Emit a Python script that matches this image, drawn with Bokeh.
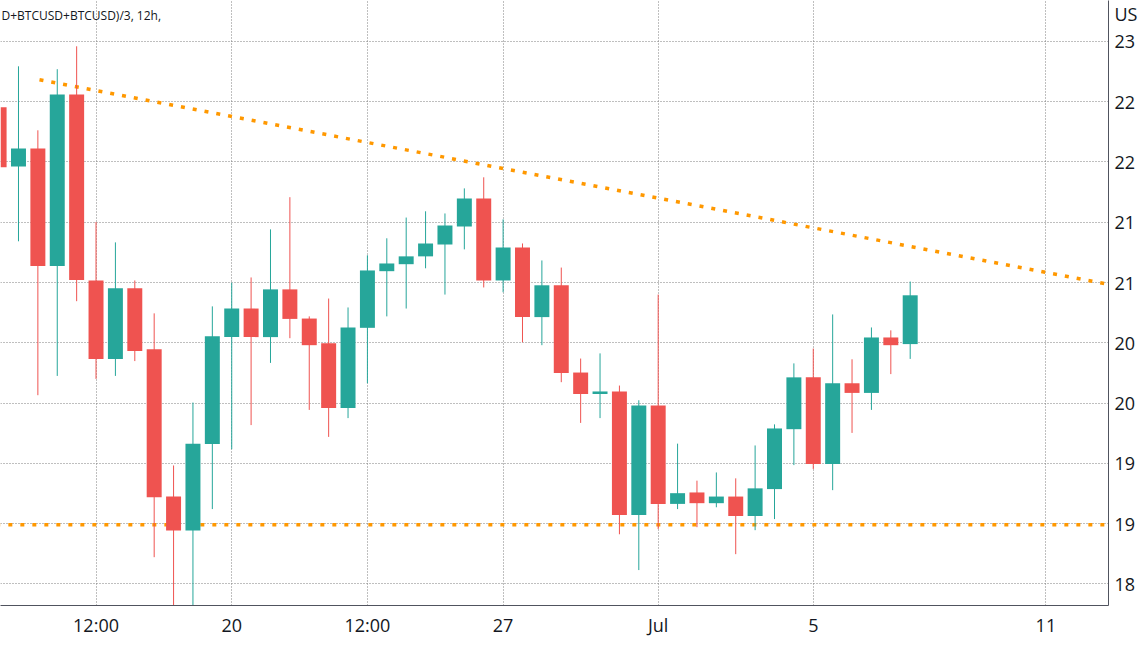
import pandas as pd
from bokeh.plotting import figure
from bokeh.models import ColumnDataSource, Range1d, FixedTicker, Label
from bokeh.embed import file_html
from bokeh.resources import INLINE

# ---------------- data (12h candles) ----------------
TIMES = [
    "2022-06-14 00:00", "2022-06-14 12:00", "2022-06-15 00:00", "2022-06-15 12:00",
    "2022-06-16 00:00", "2022-06-16 12:00", "2022-06-17 00:00", "2022-06-17 12:00",
    "2022-06-18 00:00", "2022-06-18 12:00", "2022-06-19 00:00", "2022-06-19 12:00",
    "2022-06-20 00:00", "2022-06-20 12:00", "2022-06-21 00:00", "2022-06-21 12:00",
    "2022-06-22 00:00", "2022-06-22 12:00", "2022-06-23 00:00", "2022-06-23 12:00",
    "2022-06-24 00:00", "2022-06-24 12:00", "2022-06-25 00:00", "2022-06-25 12:00",
    "2022-06-26 00:00", "2022-06-26 12:00", "2022-06-27 00:00", "2022-06-27 12:00",
    "2022-06-28 00:00", "2022-06-28 12:00", "2022-06-29 00:00", "2022-06-29 12:00",
    "2022-06-30 00:00", "2022-06-30 12:00", "2022-07-01 00:00", "2022-07-01 12:00",
    "2022-07-02 00:00", "2022-07-02 12:00", "2022-07-03 00:00", "2022-07-03 12:00",
    "2022-07-04 00:00", "2022-07-04 12:00", "2022-07-05 00:00", "2022-07-05 12:00",
    "2022-07-06 00:00", "2022-07-06 12:00", "2022-07-07 00:00", "2022-07-07 12:00",
]
OPEN = [22454, 21962, 22113, 21137, 22561, 21017, 20366, 20953,
        20446, 19224, 18942, 19660, 20547, 20784, 20547, 20943,
        20701, 20495, 19958, 20624, 21094, 21152, 21217, 21315,
        21465, 21698, 21017, 21290, 20713, 20977, 20253, 20075,
        20096, 19071, 19980, 19163, 19258, 19169, 19224, 19062,
        19286, 19783, 20213, 19494, 20164, 20084, 20544, 20489]
HIGH = [22650, 22794, 22263, 22770, 22960, 21502, 21333, 21017,
        20744, 19482, 20004, 20802, 20999, 21042, 21441, 21708,
        20719, 20867, 20793, 21226, 21367, 21539, 21591, 21573,
        21781, 21873, 21524, 21324, 21183, 21124, 20369, 20412,
        20145, 20023, 20900, 19663, 19356, 19424, 19375, 19648,
        19823, 20329, 20452, 20735, 20363, 20627, 20603, 21008]
LOW = [21800, 21342, 20065, 20225, 20845, 20200, 20225, 20348,
       18721, 17800, 18100, 19120, 19617, 19817, 20333, 20538,
       19943, 19719, 19875, 20164, 20719, 20784, 21118, 20900,
       21275, 20959, 20919, 20504, 20480, 20173, 19835, 19875,
       18911, 18614, 18954, 19120, 18970, 19135, 18746, 18945,
       19037, 19485, 19452, 19277, 19752, 19943, 20240, 20366]
CLOSE = [21956, 22113, 21137, 22561, 21020, 20366, 20953, 20431,
         19218, 18942, 19663, 20554, 20784, 20547, 20943, 20698,
         20480, 19958, 20627, 21100, 21158, 21217, 21324, 21474,
         21698, 21017, 21290, 20713, 20977, 20250, 20075, 20096,
         19071, 19980, 19163, 19252, 19169, 19224, 19062, 19292,
         19789, 20213, 19494, 20164, 20084, 20544, 20480, 20894]

# drawn lines (anchor points)
TREND_TIMES = ["2022-06-15 01:00", "2022-07-13 00:00"]
TREND_PRICES = [22683, 20961]
SUPPORT_TIMES = ["2022-06-13 00:00", "2022-07-13 00:00"]
SUPPORT_PRICES = [18990, 18990]

# axis ticks
X_TICK_TIMES = ["2022-06-16 12:00", "2022-06-20 00:00", "2022-06-23 12:00",
                "2022-06-27 00:00", "2022-07-01 00:00", "2022-07-05 00:00",
                "2022-07-11 00:00"]
X_TICK_LABELS = ["12:00", "20", "12:00", "27", "Jul", "5", "11"]
Y_TICKS = [18500, 19000, 19500, 20000, 20500, 21000, 21500, 22000, 22500, 23000]
Y_TICK_LABELS = ["18", "19", "19", "20", "20", "21", "21", "22", "22", "23"]

TITLE_TEXT = "D+BTCUSD+BTCUSD)/3, 12h,"
CURRENCY_TEXT = "US"
CURRENCY_AT = 23224          # price level where the currency caption sits


def to_ms(ts):
    return [float(v) / 1e6 for v in pd.DatetimeIndex(ts).asi8]


DAY = 86400000.0
PX_PER_DAY = 38.84
FRAME_W = 1110

x_ms = to_ms(TIMES)
colors = ["#26a69a" if c >= o else "#ef5350" for o, c in zip(OPEN, CLOSE)]
src = ColumnDataSource(dict(
    x=x_ms, open=OPEN, high=HIGH, low=LOW, close=CLOSE,
    top=[max(o, c) for o, c in zip(OPEN, CLOSE)],
    bottom=[min(o, c) for o, c in zip(OPEN, CLOSE)],
    color=colors,
))

ref_ms = to_ms(["2022-06-16 12:00"])[0]
x_start = ref_ms - 95.7 / PX_PER_DAY * DAY
x_end = x_start + FRAME_W / PX_PER_DAY * DAY
y_start, y_end = 18320, 23340

p = figure(
    width=1140, height=647,
    x_axis_type="datetime", y_axis_location="right",
    x_range=Range1d(x_start, x_end), y_range=Range1d(y_start, y_end),
    output_backend="svg", toolbar_location=None,
    min_border_left=0, min_border_top=0, min_border_right=30, min_border_bottom=42,
)
p.background_fill_color = "white"
p.border_fill_color = "white"
p.outline_line_color = None

# grids
grid_color = "#7f7f7f"
for g in (p.xgrid[0], p.ygrid[0]):
    g.grid_line_color = grid_color
    g.grid_line_dash = "1 2"
    g.grid_line_width = 1

# x axis
xt = FixedTicker(ticks=to_ms(X_TICK_TIMES))
p.xaxis[0].ticker = xt
p.xgrid[0].ticker = xt
p.xaxis[0].major_label_overrides = {t: l for t, l in zip(to_ms(X_TICK_TIMES), X_TICK_LABELS)}

# y axis (the currency caption rides on an extra axis tick, without gridline)
p.ygrid[0].ticker = FixedTicker(ticks=Y_TICKS)
p.yaxis[0].ticker = FixedTicker(ticks=Y_TICKS + [CURRENCY_AT])
overrides = {t: l for t, l in zip(Y_TICKS, Y_TICK_LABELS)}
overrides[CURRENCY_AT] = CURRENCY_TEXT
p.yaxis[0].major_label_overrides = overrides

for ax in (p.xaxis[0], p.yaxis[0]):
    ax.axis_line_color = "#50535e"
    ax.axis_line_width = 1
    ax.major_tick_line_color = None
    ax.minor_tick_line_color = None
    ax.major_tick_out = 0
    ax.major_tick_in = 0
    ax.major_label_text_font = "Open Sans"
    ax.major_label_text_font_size = "18px"
    ax.major_label_text_color = "#131722"
p.xaxis[0].major_label_standoff = 7
p.yaxis[0].major_label_standoff = 6

# drawn trend lines
p.line(to_ms(TREND_TIMES), TREND_PRICES, line_color="#ff9800", line_width=3.5, line_dash="4 8")
p.line(to_ms(SUPPORT_TIMES), SUPPORT_PRICES, line_color="#ff9800", line_width=3.5, line_dash="4 8")

# candles
body_w = 15 / PX_PER_DAY * DAY
p.segment(x0="x", y0="low", x1="x", y1="high", line_color="color", line_width=1, source=src)
p.vbar(x="x", width=body_w, top="top", bottom="bottom", fill_color="color", line_color=None, source=src)

# legend caption
p.add_layout(Label(x=x_start, y=23216, text=TITLE_TEXT, text_font="Open Sans",
                   text_font_size="12px", text_color="#131722", text_baseline="middle",
                   text_align="left", x_offset=1))

open("out.html", "w").write(file_html(p, INLINE))
